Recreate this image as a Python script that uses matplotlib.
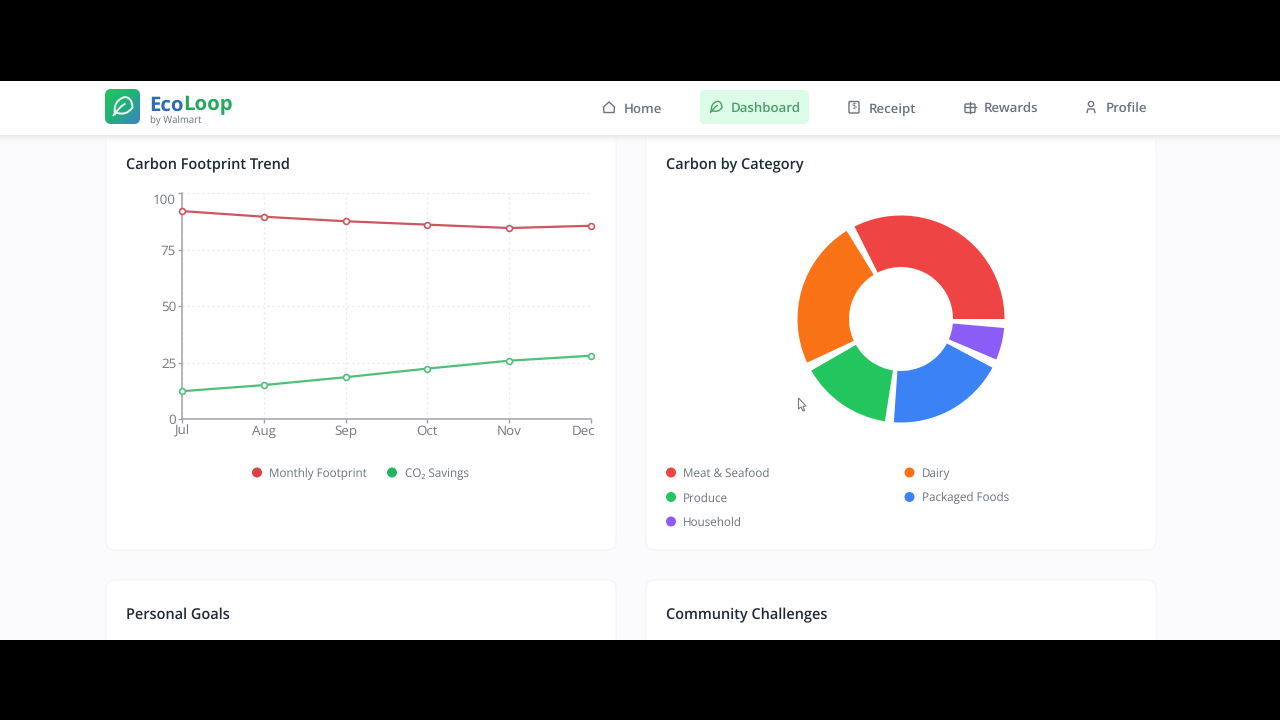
import numpy as np
import matplotlib
matplotlib.use("Agg")
import matplotlib.pyplot as plt
from matplotlib.patches import FancyBboxPatch, Rectangle, Circle, PathPatch, Polygon, Wedge
from matplotlib.path import Path
from matplotlib.transforms import ScaledTranslation

plt.rcParams['font.family'] = ['Open Sans', 'Noto Sans', 'DejaVu Sans']
plt.rcParams['text.hinting'] = 'no_hinting'
plt.rcParams['text.hinting_factor'] = 8

months = ['Jul', 'Aug', 'Sep', 'Oct', 'Nov', 'Dec']
footprint = [92, 89.5, 87.5, 86, 84.5, 85.5]
savings = [12.3, 15, 18.5, 22.3, 25.8, 28]
y_ticks = [0, 25, 50, 75, 100]
categories = ['Meat & Seafood', 'Dairy', 'Produce', 'Packaged Foods', 'Household']
cat_values = [33.8, 24.5, 15.6, 19.7, 6.4]
cat_colors = ['#ef4444', '#f97316', '#22c55e', '#3b82f6', '#8b5cf6']
nav_items = ['Home', 'Dashboard', 'Receipt', 'Rewards', 'Profile']
nav_x = [624, 731, 869, 984, 1106]
nav_icon_x = [609, 716, 854, 970, 1091]

W, H = 1280, 720
PAGE = '#fbfbfd'
fig = plt.figure(figsize=(12.8, 7.2), dpi=100, facecolor=PAGE)
bg = fig.add_axes([0, 0, 1, 1], zorder=0)
bg.set_xlim(0, W); bg.set_ylim(H, 0); bg.axis('off')
top = fig.add_axes([0, 0, 1, 1], zorder=5)
top.set_xlim(0, W); top.set_ylim(H, 0); top.axis('off'); top.patch.set_alpha(0)

def px(v):
    return v * 0.72

def card(a, x0, y0, x1, y1):
    a.add_patch(FancyBboxPatch((x0, y0), x1 - x0, y1 - y0, boxstyle='round,pad=0,rounding_size=9',
                               fc='white', ec='#f5f5f7', lw=1))

for x0, x1 in [(106, 616), (646, 1156)]:
    card(bg, x0, 120, x1, 550)
    card(bg, x0, 580, x1, 700)

TITLE = '#1f2937'
for x, y, s in [(126, 169, 'Carbon Footprint Trend'), (666, 169, 'Carbon by Category'),
                (126, 619, 'Personal Goals'), (666, 619, 'Community Challenges')]:
    bg.text(x, y, s, fontsize=px(14.5), fontweight='semibold', color=TITLE, va='baseline', ha='left')

# navigation bar
top.imshow(np.linspace(0, 1, 12)[:, None], extent=(0, W, 146, 135), aspect='auto',
           cmap=matplotlib.colors.LinearSegmentedColormap.from_list('s', ['#e9eaec', '#ffffff']),
           alpha=np.linspace(1, 0, 12)[:, None], zorder=1)
top.set_xlim(0, W); top.set_ylim(H, 0)
top.add_patch(Rectangle((0, 81), W, 54, fc='white', ec='none', zorder=2))
top.add_patch(Rectangle((0, 0), W, 80.5, fc='black', ec='none', zorder=20))
top.add_patch(Rectangle((0, 640), W, 80, fc='black', ec='none', zorder=20))

# logo
grad = np.add.outer(np.linspace(0, 1, 40), np.linspace(0, 1, 40)) / 2
cm = matplotlib.colors.LinearSegmentedColormap.from_list('g', ['#22c55e', '#22b07a', '#3b82c6'])
im = top.imshow(grad, extent=(105, 140, 124, 89), cmap=cm, aspect='auto', zorder=3)
clip = FancyBboxPatch((105, 89), 35, 35, boxstyle='round,pad=0,rounding_size=6', fc='none', ec='none',
                      transform=top.transData)
top.add_patch(clip); im.set_clip_path(clip)
top.set_xlim(0, W); top.set_ylim(H, 0)

def leaf(a, cx, cy, s, color, lw):
    verts = [(-0.75, 0.85), (-1.0, -0.55), (0.2, -0.95), (0.95, -0.95), (1.0, 0.1), (0.35, 1.0), (-0.65, 0.6),
             (-0.95, 0.95), (-0.3, 0.0), (0.3, -0.3)]
    codes = [Path.MOVETO, Path.CURVE3, Path.CURVE3, Path.CURVE3, Path.CURVE3, Path.CURVE3, Path.CURVE3,
             Path.MOVETO, Path.CURVE3, Path.CURVE3]
    a.add_patch(PathPatch(Path([(cx + s * u, cy + s * v) for u, v in verts], codes), fc='none', ec=color, lw=lw, zorder=6))

leaf(top, 122.5, 106.5, 10, '#e8f7ef', 1.4)

r = fig.canvas.get_renderer()
t1 = top.text(149.5, 110.5, 'Eco', fontsize=px(20.4), fontweight='bold', color='#2f6bb0', va='baseline', ha='left', zorder=6)
x_end = top.transData.inverted().transform(t1.get_window_extent(r))[1, 0]
top.text(x_end - 0.5, 110.5, 'Loop', fontsize=px(20.4), fontweight='bold', color='#25a85a', va='baseline', ha='left', zorder=6)
top.text(150, 123.5, 'by Walmart', fontsize=px(9.6), color='#6b7280', va='baseline', ha='left', zorder=6)

# nav
top.add_patch(FancyBboxPatch((700, 90), 109, 34, boxstyle='round,pad=0,rounding_size=5', fc='#dcfce7', ec='none', zorder=3))
for name, x in zip(nav_items, nav_x):
    active = name == 'Dashboard'
    top.text(x, 112.5, name, fontsize=px(13.2), fontweight='semibold', color='#4a9e6a' if active else '#6b7280',
             va='baseline', ha='left', zorder=6)

ICON = '#6b7280'
ic = nav_icon_x
top.add_patch(Polygon([(ic[0] - 5.5, 107), (ic[0], 102), (ic[0] + 5.5, 107), (ic[0] + 5, 112.5), (ic[0] - 5, 112.5)],
                      closed=True, fc='none', ec=ICON, lw=1, zorder=6))
leaf(top, ic[1], 107, 6, '#4a9e6a', 1)
top.add_patch(FancyBboxPatch((ic[2] - 5, 101.5), 10, 11.5, boxstyle='round,pad=0,rounding_size=1', fc='none', ec=ICON, lw=1, zorder=6))
top.text(ic[2], 107.5, '$', fontsize=px(9), color=ICON, ha='center', va='center', zorder=6, parse_math=False)
top.add_patch(FancyBboxPatch((ic[3] - 5, 104), 10, 8.5, boxstyle='round,pad=0,rounding_size=1', fc='none', ec=ICON, lw=1, zorder=6))
top.plot([ic[3] - 5.5, ic[3] + 5.5], [106.5, 106.5], color=ICON, lw=1, zorder=6)
top.plot([ic[3], ic[3]], [102, 112.5], color=ICON, lw=1, zorder=6)
top.add_patch(Circle((ic[4], 104), 2.6, fc='none', ec=ICON, lw=1, zorder=6))
top.plot([ic[4] - 4, ic[4] - 3, ic[4] + 3, ic[4] + 4], [112.5, 109, 109, 112.5], color=ICON, lw=1, zorder=6)

# line chart
LX0, LX1, LY0, LY1 = 182, 591, 193, 419
ax = fig.add_axes([LX0 / W, 1 - LY1 / H, (LX1 - LX0) / W, (LY1 - LY0) / H], zorder=2)
ax.patch.set_alpha(0)
xs = np.arange(len(months))
ax.plot(xs, footprint, color='#cf5560', lw=1.6, marker='o', ms=4.2, mfc='white', mec='#cf5560', mew=1.2, clip_on=False, zorder=4)
ax.plot(xs, savings, color='#4fc07a', lw=1.6, marker='o', ms=4.2, mfc='white', mec='#4fc07a', mew=1.2, clip_on=False, zorder=4)
ax.set_xlim(0, len(months) - 1)
ax.set_ylim(0, 100)
ax.set_xticks(xs, months)
ax.set_yticks(y_ticks)
ax.grid(True, color='#e8e9eb', lw=0.9, ls=(0, (1.6, 2.4)))
ax.set_axisbelow(True)
for s in ['top', 'right']:
    ax.spines[s].set_visible(False)
for s in ['left', 'bottom']:
    ax.spines[s].set_color('#a0a3a8')
    ax.spines[s].set_linewidth(1.1)
ax.tick_params(axis='both', length=3, width=1, color='#a0a3a8', labelcolor='#757980', labelsize=px(13.4))
ax.tick_params(axis='y', pad=1.2)
ax.tick_params(axis='x', pad=1.0)
fig.canvas.draw()
ax.get_xticklabels()[-1].set_ha('right')
ax.get_xticklabels()[-1].set_transform(ax.get_xticklabels()[-1].get_transform() + ScaledTranslation(4 / 100, 0, fig.dpi_scale_trans))
ax.get_yticklabels()[-1].set_transform(ax.get_yticklabels()[-1].get_transform() + ScaledTranslation(0, -6 / 100, fig.dpi_scale_trans))

# doughnut
CX, CY, R_OUT, R_IN = 901, 319, 103.5, 52
GAP = 5.0
dn = fig.add_axes([(CX - 110) / W, 1 - (CY + 110) / H, 220 / W, 220 / H], zorder=2)
dn.set_xlim(-110, 110); dn.set_ylim(-110, 110); dn.axis('off')
start = 0.0
for v, c in zip(cat_values, cat_colors):
    span = 360 * v / sum(cat_values)
    dn.add_patch(Wedge((0, 0), R_OUT, start, start + span - GAP, width=R_OUT - R_IN, fc=c, ec='none'))
    start += span

# legends
LEG = '#6b7280'
def leg(x, y, c, s, tx):
    bg.add_patch(Circle((x, y), 5, fc=c, ec='none'))
    bg.text(tx, y + 4.5, s, fontsize=px(11.6), color=LEG, va='baseline', ha='left')

leg(257, 472.5, '#dc3f47', 'Monthly Footprint', 269)
leg(392, 472.5, '#22b560', 'CO₂ Savings', 405)
leg_pos = [(671, 472.5), (909.5, 472.5), (671, 497), (909.5, 497), (671, 521.5)]
for (x, y), c, s in zip(leg_pos, cat_colors, categories):
    leg(x, y, c, s, x + 12)

# cursor
top.add_patch(Polygon([(798.5, 398), (798.5, 409), (801, 407), (803, 411), (804.5, 410.5), (803, 406.5), (806, 406)],
                      closed=True, fc='white', ec='#777b80', lw=0.8, zorder=6))

fig.savefig('out.png', dpi=100)
